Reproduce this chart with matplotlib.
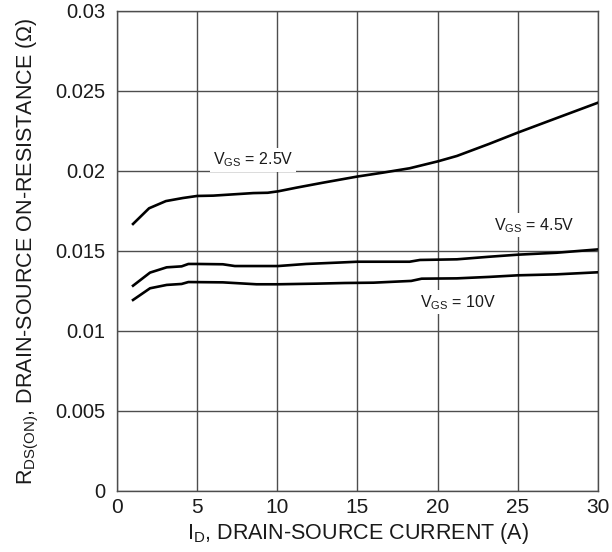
import matplotlib
matplotlib.use("Agg")
import matplotlib.pyplot as plt

plt.rcParams['font.family'] = ['Liberation Sans', 'DejaVu Sans']

# Data
id_25 = [1.0, 2.0, 3.05, 4.1, 5.0, 6.0, 7.25, 8.5, 9.4, 10.05, 11.2, 12.85, 14.97, 16.6, 18.25, 20.0, 21.2, 23.2, 25.0, 27.4, 30.0]
r_25 = [0.01669, 0.01767, 0.01812, 0.01831, 0.01844, 0.01846, 0.01854, 0.01862, 0.01864, 0.01873, 0.01896, 0.01927, 0.01965, 0.0199, 0.02017, 0.0206, 0.02094, 0.02169, 0.0224, 0.0233, 0.02427]

id_45 = [1.0, 2.06, 3.1, 4.03, 4.45, 5.0, 6.6, 7.35, 10.05, 11.8, 13.9, 15.0, 18.25, 18.9, 21.2, 23.2, 25.0, 27.4, 30.0]
r_45 = [0.01283, 0.01365, 0.01398, 0.01404, 0.01419, 0.01419, 0.01417, 0.01406, 0.01406, 0.01419, 0.01428, 0.01433, 0.01433, 0.01444, 0.01448, 0.01464, 0.01477, 0.01489, 0.0151]

id_10 = [1.0, 2.06, 3.1, 4.03, 4.45, 6.6, 8.7, 10.05, 12.45, 14.2, 16.0, 18.35, 19.0, 21.2, 23.2, 25.0, 27.4, 30.0]
r_10 = [0.01194, 0.01267, 0.01288, 0.01294, 0.01306, 0.01304, 0.01292, 0.01292, 0.01296, 0.013, 0.01302, 0.01313, 0.01327, 0.01329, 0.01338, 0.01348, 0.01354, 0.01367]

x_ticks = [0, 5, 10, 15, 20, 25, 30]
y_ticks = [0, 0.005, 0.01, 0.015, 0.02, 0.025, 0.03]
y_ticklabels = ['0', '0.005', '0.01', '0.015', '0.02', '0.025', '0.03']

labels = ['$\\mathregular{V_{GS}}$ = 2.5V', '$\\mathregular{V_{GS}}$ = 4.5V', '$\\mathregular{V_{GS}}$ = 10V']
label_pos = [(8.5, 0.0207), (26.0, 0.0166), (21.25, 0.0118)]

fig = plt.figure(figsize=(6.12, 5.52), dpi=100)
ax = fig.add_axes([117/612, 1-491/552, (598-117)/612, 480/552])

for x, y in [(id_25, r_25), (id_45, r_45), (id_10, r_10)]:
    ax.plot(x, y, color='black', lw=1.9, solid_joinstyle='round', zorder=3)

ax.set_xlim(0, 30)
ax.set_ylim(0, 0.03)
ax.set_xticks(x_ticks)
ax.set_xticklabels([str(t) for t in x_ticks])
ax.set_yticks(y_ticks)
ax.set_yticklabels(y_ticklabels)
ax.tick_params(length=0, colors='#1a1a1a')
ax.tick_params(axis='y', labelsize=14.5, pad=8.5)
ax.tick_params(axis='x', labelsize=15, pad=5)
ax.grid(True, color='#4d4d4d', lw=1.0)
for s in ax.spines.values():
    s.set_color('#4d4d4d')
    s.set_linewidth(1.0)

for lab, (x, y) in zip(labels, label_pos):
    ax.text(x, y, lab, fontsize=11.5, ha='center', va='center', color='#1a1a1a',
            bbox=dict(facecolor='white', edgecolor='none', pad=2), zorder=4)

ax.set_xlabel('$\\mathregular{I_D}$, DRAIN-SOURCE CURRENT (A)', fontsize=15.5, color='#1a1a1a', labelpad=3)
ax.set_ylabel('$\\mathregular{R_{DS(ON)}}$, DRAIN-SOURCE ON-RESISTANCE (Ω)', fontsize=15.5, color='#1a1a1a', labelpad=10)

fig.savefig('out.png', dpi=100)
